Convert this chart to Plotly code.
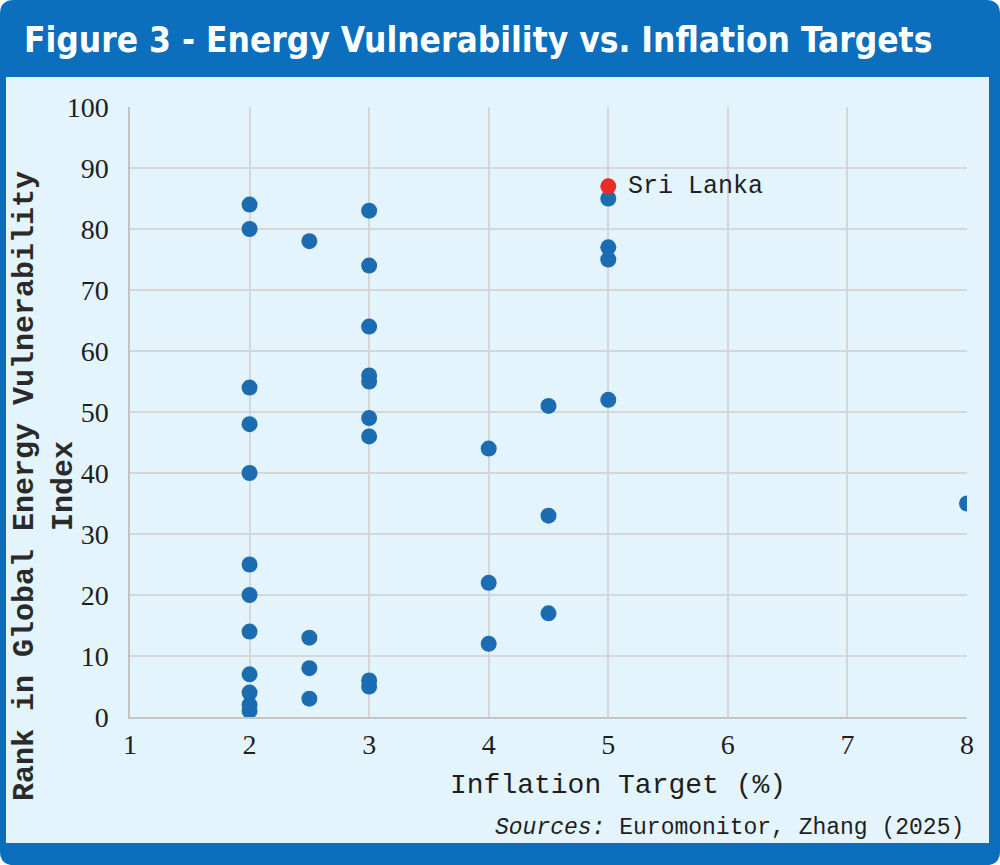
import plotly.graph_objects as go

# ---- data ----
inflation_target = [2, 2, 2, 2, 2, 2, 2, 2, 2, 2, 2, 2,
                    2.5, 2.5, 2.5, 2.5,
                    3, 3, 3, 3, 3, 3, 3, 3, 3,
                    4, 4, 4,
                    4.5, 4.5, 4.5,
                    5, 5, 5, 5,
                    8]
vulnerability_rank = [84, 80, 54, 48, 40, 25, 20, 14, 7, 4, 2, 1,
                      78, 13, 8, 3,
                      83, 74, 64, 56, 55, 49, 46, 6, 5,
                      44, 22, 12,
                      51, 33, 17,
                      85, 77, 75, 52,
                      35]
highlight_name = ["Sri Lanka"]
highlight_x = [5]
highlight_y = [87]

x_ticks = [1, 2, 3, 4, 5, 6, 7, 8]
y_ticks = [0, 10, 20, 30, 40, 50, 60, 70, 80, 90, 100]

title_text = "Figure 3 - Energy Vulnerability vs. Inflation Targets"
x_title = "Inflation Target (%)"
y_title = "Rank in Global Energy Vulnerability<br>Index"

# ---- layout geometry (pixels) ----
W, H = 1000, 865
L, R, T, B = 130, 33, 107, 148
PW, PH = W - L - R, H - T - B

def px(x):
    return (x - L) / PW

def py(y):
    return (H - B - y) / PH

BLUE = "#0b6fbd"
PANEL = "#e4f4fc"
GRID = "#d6d6d6"
MONO = "Liberation Mono, Courier New, monospace"
SERIF = "Liberation Serif, Times New Roman, serif"

def rounded(x0, y0, x1, y1, r):
    def P(x, y):
        return f"{px(x):.5f},{py(y):.5f}"
    return (f"M{P(x0 + r, y0)} L{P(x1 - r, y0)} Q{P(x1, y0)} {P(x1, y0 + r)} "
            f"L{P(x1, y1 - r)} Q{P(x1, y1)} {P(x1 - r, y1)} "
            f"L{P(x0 + r, y1)} Q{P(x0, y1)} {P(x0, y1 - r)} "
            f"L{P(x0, y0 + r)} Q{P(x0, y0)} {P(x0 + r, y0)} Z")

fig = go.Figure()

fig.add_trace(go.Scatter(
    x=inflation_target, y=vulnerability_rank, mode="markers",
    marker=dict(size=16, color="#1c6cb1"),
    hoverinfo="x+y", showlegend=False,
))
fig.add_trace(go.Scatter(
    x=highlight_x, y=highlight_y, mode="markers",
    marker=dict(size=16, color="#ee2a24"),
    text=highlight_name, hoverinfo="text", showlegend=False,
))

shapes = [
    dict(type="path", xref="paper", yref="paper", layer="below",
         path=rounded(0, 0, W, H, 14), fillcolor=BLUE, line=dict(width=0)),
    dict(type="rect", xref="paper", yref="paper", layer="below",
         x0=px(6), x1=px(989), y0=py(77), y1=py(843),
         fillcolor=PANEL, line=dict(width=0)),
]

annotations = [
    dict(text=f"<b>{title_text}</b>", xref="paper", yref="paper",
         x=px(22), y=py(40), xanchor="left", yanchor="middle", showarrow=False,
         font=dict(family="Liberation Sans Narrow, DejaVu Sans Condensed, Arial Narrow, sans-serif",
                   size=35, color="white")),
    dict(text=x_title, xref="paper", yref="paper",
         x=px(618), y=py(785), xanchor="center", yanchor="middle", showarrow=False,
         font=dict(family=MONO, size=28, color="#1e1e1e")),
    dict(text=f"<b>{y_title}</b>", xref="paper", yref="paper", textangle=-90,
         x=px(44), y=py(486), xanchor="center", yanchor="middle", showarrow=False,
         font=dict(family=MONO, size=30, color="#2a2a2a")),
    dict(text="<i>Sources:</i> Euromonitor, Zhang (2025)", xref="paper", yref="paper",
         x=px(966), y=py(828), xanchor="right", yanchor="middle", showarrow=False,
         font=dict(family=MONO, size=23, color="#1e1e1e")),
    dict(text=highlight_name[0], x=highlight_x[0], y=highlight_y[0], xref="x", yref="y",
         xanchor="left", yanchor="middle", xshift=18, showarrow=False,
         font=dict(family=MONO, size=25, color="#1e1e1e")),
]

fig.update_layout(
    width=W, height=H,
    margin=dict(l=L, r=R, t=T, b=B),
    paper_bgcolor="white",
    plot_bgcolor=PANEL,
    shapes=shapes,
    annotations=annotations,
    xaxis=dict(range=[1, 8], tickvals=x_ticks, showgrid=True, gridcolor=GRID, gridwidth=1.5,
               zeroline=False, showline=True, linecolor="#c4c4c4", linewidth=1.5, mirror=False,
               ticks="outside", ticklen=2, tickcolor="rgba(0,0,0,0)",
               tickfont=dict(family=SERIF, size=28, color="#1e1e1e"), fixedrange=True),
    yaxis=dict(range=[0, 100], tickvals=y_ticks, showgrid=True, gridcolor=GRID, gridwidth=1.5,
               zeroline=False, showline=True, linecolor="#c4c4c4", linewidth=1.5,
               ticks="outside", ticklen=14, tickcolor="rgba(0,0,0,0)",
               tickfont=dict(family=SERIF, size=28, color="#1e1e1e"), fixedrange=True),
)

fig.write_html("out.html", config={"displayModeBar": False},
               post_script="document.body.style.margin='0';")
